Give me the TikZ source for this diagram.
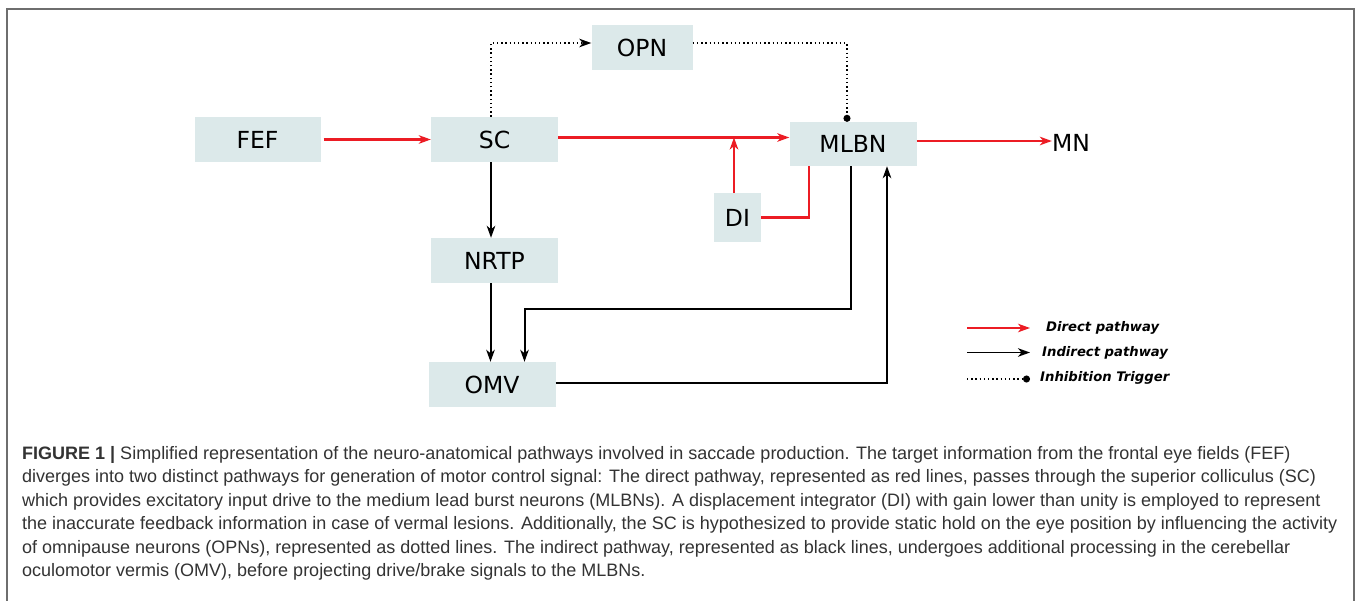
\documentclass[tikz,border=0pt]{standalone}
\usepackage{fontspec}
\setmainfont{Liberation Sans}
\newfontfamily\boxfont{DejaVu Sans}
\newfontfamily\legfont{DejaVu Sans}
\newfontfamily\capfont{Liberation Sans}
\usetikzlibrary{arrows.meta}
\definecolor{boxfill}{HTML}{DCE9EA}
\definecolor{pathred}{HTML}{EC1C24}
\definecolor{framegray}{HTML}{6E6E6E}
\definecolor{captext}{HTML}{333333}
\tikzset{
  block/.style={fill=boxfill, inner sep=0pt, font=\boxfont\fontsize{23.5}{28}\selectfont},
  plain/.style={inner sep=0pt, font=\boxfont\fontsize{23.5}{28}\selectfont},
  tip/.style={-{Stealth[length=12pt,width=8.5pt,inset=3.5pt]}},
  direct/.style={draw=pathred, line width=2.1pt, tip},
  directline/.style={draw=pathred, line width=2.1pt},
  indirect/.style={draw=black, line width=2pt, tip},
  indirectline/.style={draw=black, line width=2pt},
  inhib/.style={draw=black, line width=1.6pt, dash pattern=on 1.4pt off 2.8pt},
  legtext/.style={anchor=west, inner sep=0pt, font=\legfont\bfseries\itshape\fontsize{13.2}{16}\selectfont},
  capline/.style={anchor=base west, inner sep=0pt, text=captext, font=\capfont\fontsize{18}{21}\selectfont},
}
\begin{document}
\begin{tikzpicture}[x=1pt,y=-1pt]
\useasboundingbox (0,0) rectangle (1358,600);
\fill[white] (0,0) rectangle (1358,600);
\draw[framegray, line width=1.3pt] (7,9) rectangle (1354,604);

% blocks
\node[block, minimum width=126pt, minimum height=45pt] (FEF)  at (257.5,139.5) {FEF};
\node[block, minimum width=127pt, minimum height=45pt] (SC)   at (494.5,139.5) {SC};
\node[block, minimum width=127pt, minimum height=45pt] (NRTP) at (494.5,260.5) {NRTP};
\node[block, minimum width=127pt, minimum height=45pt] (OMV)  at (492,384.5) {OMV};
\node[block, minimum width=101pt, minimum height=45pt] (OPN)  at (642,47.5) {OPN};
\node[block, minimum width=127pt, minimum height=44pt] (MLBN) at (853,144) {MLBN};
\node[block, minimum width=47pt,  minimum height=49pt] (DI)   at (737.5,217.5) {DI};
\node[plain] (MN) at (1071,143) {MN};

% direct pathway
\draw[direct] ([xshift=3pt]FEF.east) -- (SC.west);
\draw[direct] ([yshift=2pt]SC.east) -- ([yshift=2pt]SC.east -| MLBN.west);
\draw[direct] ([xshift=-3.5pt]DI.north) -- ([xshift=-3.5pt,yshift=2pt]DI.north |- SC.east);
\draw[directline] (DI.east) -| ([xshift=-44pt]MLBN.south);
\draw[direct] ([yshift=3pt]MLBN.east) -- ([yshift=2pt]MN.west);

% indirect pathway
\draw[indirect] ([xshift=-3.5pt]SC.south) -- ([xshift=-3.5pt]NRTP.north);
\draw[indirect] ([xshift=-4pt]NRTP.south) -- ([xshift=-4pt]NRTP.south |- OMV.north);
\draw[indirect] ([xshift=-2pt]MLBN.south) -- ++(0,143) -| ([xshift=32.5pt]OMV.north);
\draw[indirect] ([yshift=1.5pt]OMV.east) -| ([xshift=34pt]MLBN.south);

% inhibition trigger
\draw[inhib, -{Stealth[length=12pt,width=8.5pt,inset=3.5pt]}] ([xshift=-3.5pt]SC.north) |- ([yshift=4.5pt]OPN.west);
\draw[inhib, -{Circle[length=7pt,width=7pt]}] ([yshift=4.5pt]OPN.east) -| ([xshift=-6pt]MLBN.north);

% legend
\coordinate (l1a) at (967,328);  \coordinate (l1b) at (1030,328);
\coordinate (l2a) at (967,352.5); \coordinate (l2b) at (1030,352.5);
\coordinate (l3a) at (967,379);  \coordinate (l3b) at (1030,379);
\draw[direct, line width=1.8pt] (l1a) -- (l1b);
\draw[indirect, line width=1.8pt] (l2a) -- (l2b);
\draw[inhib, -{Circle[length=7pt,width=7pt]}] (l3a) -- (l3b);
\node[legtext] (lg1) at (1046,328) {Direct pathway};
\node[legtext] (lg2) at (1042,352.5) {Indirect pathway};
\node[legtext] (lg3) at (1040,378) {Inhibition Trigger};

% caption
\node[capline] (c1) at (22,459)   {\textbf{FIGURE 1 |} Simplified representation of the neuro-anatomical pathways involved in saccade production. The target information from the frontal eye fields (FEF)};
\node[capline] (c2) at (22,482.5) {diverges into two distinct pathways for generation of motor control signal: The direct pathway, represented as red lines, passes through the superior colliculus (SC)};
\node[capline] (c3) at (22,506)   {which provides excitatory input drive to the medium lead burst neurons (MLBNs). A displacement integrator (DI) with gain lower than unity is employed to represent};
\node[capline] (c4) at (22,529.5) {the inaccurate feedback information in case of vermal lesions. Additionally, the SC is hypothesized to provide static hold on the eye position by influencing the activity};
\node[capline] (c5) at (22,553)   {of omnipause neurons (OPNs), represented as dotted lines. The indirect pathway, represented as black lines, undergoes additional processing in the cerebellar};
\node[capline] (c6) at (22,576.5) {oculomotor vermis (OMV), before projecting drive/brake signals to the MLBNs.};
\end{tikzpicture}
\end{document}
